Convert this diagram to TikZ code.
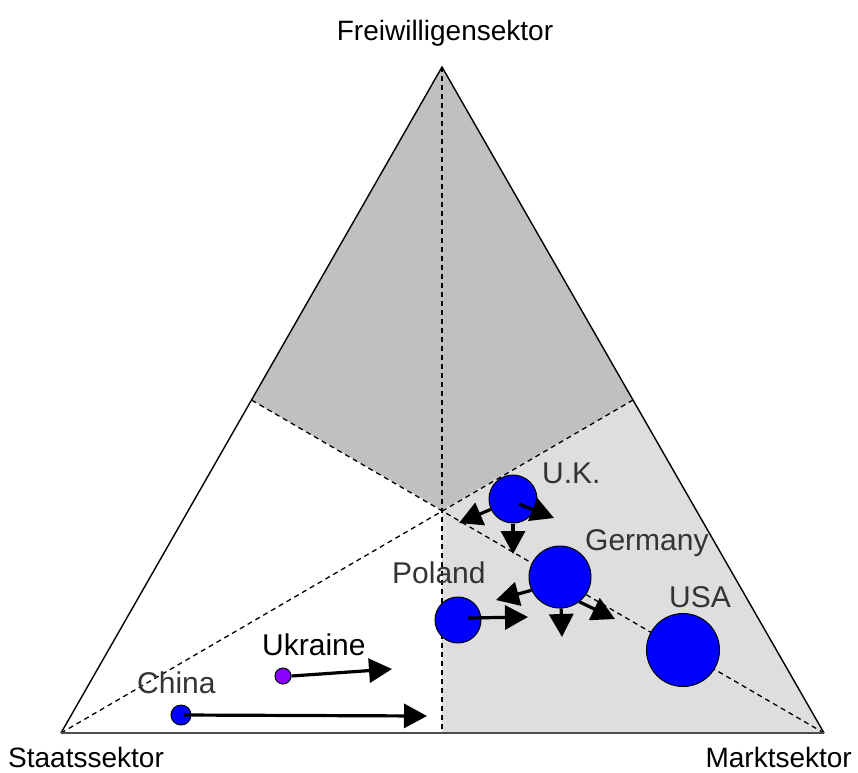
\documentclass[tikz,border=0pt]{standalone}
\usepackage{fontspec}
\setmainfont{Liberation Sans}
\usetikzlibrary{arrows.meta,calc}
\definecolor{darkgrey}{HTML}{C0C0C0}
\definecolor{lightgrey}{HTML}{DEDEDE}
\definecolor{ctryblue}{HTML}{0000FF}
\definecolor{ctrypurple}{HTML}{8A00FF}
\definecolor{labelgrey}{HTML}{333333}
\tikzset{
  sectorlabel/.style={font=\fontsize{28}{32}\selectfont, text=black, inner sep=0pt},
  ctrylabel/.style={font=\fontsize{30}{34}\selectfont, text=labelgrey, inner sep=0pt, anchor=base west},
  ctrylabelblack/.style={font=\fontsize{30}{34}\selectfont, text=black, inner sep=0pt, anchor=base west},
  median/.style={draw=black, line width=1.3pt, dash pattern=on 5pt off 4pt},
  edge/.style={draw=black, line width=1.4pt},
  country/.style={circle, draw=black, line width=1pt, fill=ctryblue, inner sep=0pt},
  move/.style={draw=black, line width=3.2pt, -{Triangle[length=23pt,width=24pt]}},
}
\begin{document}
\begin{tikzpicture}[x=1pt,y=-1pt]
\useasboundingbox (0,0) rectangle (858,772);
\fill[white] (0,0) rectangle (858,772);
% vertices
\coordinate (L) at (61,733);
\coordinate (R) at (824,733);
\coordinate (T) at (442,67);
\coordinate (B) at (442,733);
\coordinate (C) at (442,510);
\coordinate (LM) at (251.5,400);
\coordinate (RM) at (633,400);
% regions
\fill[darkgrey] (T) -- (RM) -- (C) -- (LM) -- cycle;
\fill[lightgrey] (C) -- (RM) -- (R) -- (B) -- cycle;
% medians
\draw[median] (T) -- (B);
\draw[median] (L) -- (RM);
\draw[median] (R) -- (LM);
% triangle edges
\draw[edge] (L) -- (T) -- (R);
\draw[draw=black!70, line width=2pt] (L) -- (R);
% sector labels
\node[sectorlabel, anchor=base] (fs) at (445,40) {Freiwilligensektor};
\node[sectorlabel, anchor=base west] (ss) at (8,767) {Staatssektor};
\node[sectorlabel, anchor=base east] (ms) at (852,767) {Marktsektor};
% countries
\node[country, minimum size=48pt] (uk) at (513,499) {};
\node[country, minimum size=62pt] (de) at (560,577) {};
\node[country, minimum size=46pt] (pl) at (458,620) {};
\node[country, minimum size=73pt] (us) at (683,650) {};
\node[country, minimum size=16pt, fill=ctrypurple] (ua) at (283,676) {};
\node[country, minimum size=20pt] (cn) at (181,715) {};
% labels
\node[ctrylabel] (ukl) at (542,483) {U.K.};
\node[ctrylabel] (del) at (585,550) {Germany};
\node[ctrylabel] (pll) at (392,583) {Poland};
\node[ctrylabel] (usl) at (669,607) {USA};
\node[ctrylabelblack] (ual) at (262,655) {Ukraine};
\node[ctrylabel] (cnl) at (137,693) {China};
% arrow tips
\coordinate (ukA) at (459,523);
\coordinate (ukB) at (513,554);
\coordinate (ukC) at (554,518);
\coordinate (deA) at (496,600);
\coordinate (deB) at (562,637);
\coordinate (deC) at (615,619);
\coordinate (plA) at (528,617);
\coordinate (uaA) at (392,669);
\coordinate (cnA) at (427,716);
% arrows
\draw[move] (uk.205) -- (ukA);
\draw[move] (uk.south) -- (ukB);
\draw[move] ($(uk.center)+(6,5)$) -- (ukC);
\draw[move] (de.205) -- (deA);
\draw[move] (de.272) -- (deB);
\draw[move] (de.-52) -- (deC);
\draw[move] ($(pl.center)+(10,-2)$) -- (plA);
\draw[move] (ua.east) -- (uaA);
\draw[move] ($(cn.center)+(3,0)$) -- (cnA);
\end{tikzpicture}
\end{document}
